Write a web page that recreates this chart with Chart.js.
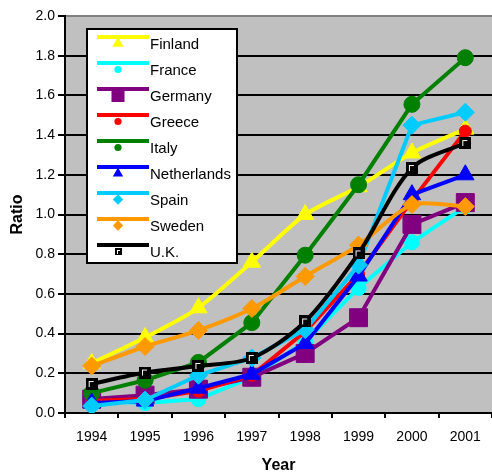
<!DOCTYPE html>
<html>
<head>
<meta charset="utf-8">
<script src="https://cdn.jsdelivr.net/npm/chart.js@4/dist/chart.umd.min.js"></script>
<style>
  html, body { margin: 0; padding: 0; background: #ffffff; }
  canvas { display: block; }
</style>
</head>
<body>
<canvas id="chart" width="492" height="474"></canvas>
<script>
// Years on the category axis
const years = ['1994', '1995', '1996', '1997', '1998', '1999', '2000', '2001'];

// Series names, in legend order
const countries = ['Finland', 'France', 'Germany', 'Greece', 'Italy', 'Netherlands', 'Spain', 'Sweden', 'U.K.'];

// Ratio per country and year
const finland     = [0.25, 0.38, 0.53, 0.76, 1.00, 1.14, 1.31, 1.43];
const france      = [0.06, 0.05, 0.07, 0.18, 0.36, 0.63, 0.86, 1.04];
const germany     = [0.07, 0.09, 0.12, 0.18, 0.30, 0.48, 0.95, 1.06];
const greece      = [0.06, 0.07, 0.11, 0.19, 0.41, 0.70, 1.07, 1.42];
const italy       = [0.10, 0.165, 0.255, 0.455, 0.795, 1.15, 1.555, 1.79];
const netherlands = [0.05, 0.06, 0.125, 0.195, 0.35, 0.69, 1.10, 1.20];
const spain       = [0.035, 0.065, 0.19, 0.277, 0.42, 0.745, 1.45, 1.515];
const sweden      = [0.237, 0.335, 0.416, 0.526, 0.688, 0.846, 1.05, 1.04];
const uk          = [0.146, 0.204, 0.237, 0.277, 0.461, 0.804, 1.234, 1.36];

const seriesValues = [finland, france, germany, greece, italy, netherlands, spain, sweden, uk];

// Y axis range and tick step
const yMin = 0, yMax = 2, yStep = 0.2;

const FONT = "'Liberation Sans', Arial, sans-serif";

// Black square marker with a small white corner mark (U.K.)
function squareMark(size, inset, arm) {
  const c = document.createElement('canvas');
  c.width = size; c.height = size;
  const g = c.getContext('2d');
  g.fillStyle = '#000';
  g.fillRect(0, 0, size, size);
  g.fillStyle = '#fff';
  g.fillRect(inset, inset, arm, 1);
  g.fillRect(inset, inset, 1, arm + 1);
  return c;
}
const ukPoint = squareMark(12, 3, 5);
const ukLegendPoint = squareMark(7, 2, 3);

// Line colour, marker shape and sizes for each series
const styles = [
  { color: '#FFFF00', shape: 'triangle', r: 10,   lr: 6.5, tension: 0.25 },
  { color: '#00FFFF', shape: 'circle',   r: 7.5,  lr: 3.6, tension: 0 },
  { color: '#800080', shape: 'rect',     r: 12.7, lr: 9.2, tension: 0 },
  { color: '#FF0000', shape: 'circle',   r: 6,    lr: 3.6, tension: 0 },
  { color: '#008000', shape: 'circle',   r: 8,    lr: 3.6, tension: 0 },
  { color: '#0000FF', shape: 'triangle', r: 10,   lr: 6.0, tension: 0 },
  { color: '#00CCFF', shape: 'rectRot',  r: 9,    lr: 5.2, tension: 0 },
  { color: '#FF9900', shape: 'rectRot',  r: 9,    lr: 5.2, tension: 0.25 },
  { color: '#000000', shape: ukPoint,    r: 6,    lr: 3.5, tension: 0.3, legendImg: ukLegendPoint }
];

const datasets = countries.map((name, i) => ({
  label: name,
  data: seriesValues[i],
  borderColor: styles[i].color,
  backgroundColor: styles[i].color,
  borderWidth: 4,
  tension: styles[i].tension,
  pointStyle: styles[i].shape,
  pointRadius: styles[i].r,
  pointHoverRadius: styles[i].r,
  pointBackgroundColor: styles[i].color,
  pointBorderColor: styles[i].color,
  pointBorderWidth: 1,
  order: countries.length - i
}));

// Grey plot-area fill
const plotBackground = {
  id: 'plotBackground',
  beforeDraw(chart) {
    const { ctx, chartArea: a } = chart;
    ctx.save();
    ctx.fillStyle = '#C0C0C0';
    ctx.fillRect(a.left, a.top, a.right - a.left, a.bottom - a.top);
    ctx.restore();
  }
};

function drawMarker(ctx, st, x, y) {
  ctx.fillStyle = st.color;
  if (st.legendImg) {
    ctx.drawImage(st.legendImg, Math.round(x - st.legendImg.width / 2), Math.round(y - st.legendImg.height / 2));
    return;
  }
  const r = st.lr;
  ctx.beginPath();
  if (st.shape === 'circle') {
    ctx.arc(x, y, r, 0, Math.PI * 2);
  } else if (st.shape === 'triangle') {
    ctx.moveTo(x, y - r);
    ctx.lineTo(x + r * 0.866, y + r / 2);
    ctx.lineTo(x - r * 0.866, y + r / 2);
    ctx.closePath();
  } else if (st.shape === 'rect') {
    const h = r * Math.SQRT1_2;
    ctx.rect(x - h, y - h, 2 * h, 2 * h);
  } else if (st.shape === 'rectRot') {
    ctx.moveTo(x, y - r);
    ctx.lineTo(x + r, y);
    ctx.lineTo(x, y + r);
    ctx.lineTo(x - r, y);
    ctx.closePath();
  }
  ctx.fill();
}

// Boxed legend inside the plot area
const boxLegend = {
  id: 'boxLegend',
  afterDraw(chart) {
    const ctx = chart.ctx;
    const box = { x: 87, y: 29, w: 150, h: 234 };
    ctx.save();
    ctx.fillStyle = '#ffffff';
    ctx.fillRect(box.x, box.y, box.w, box.h);
    ctx.strokeStyle = '#000000';
    ctx.lineWidth = 2;
    ctx.strokeRect(box.x, box.y, box.w, box.h);
    ctx.font = '15px ' + FONT;
    ctx.textBaseline = 'alphabetic';
    ctx.textAlign = 'left';
    chart.data.datasets.forEach((ds, i) => {
      const st = styles[i];
      const base = 49.3 + 26 * i;
      const lineY = base - 12.3;
      const markY = base - 5.8;
      ctx.strokeStyle = st.color;
      ctx.lineWidth = 4;
      ctx.beginPath();
      ctx.moveTo(97, lineY);
      ctx.lineTo(149, lineY);
      ctx.stroke();
      drawMarker(ctx, st, 118, markY);
      ctx.fillStyle = '#000000';
      ctx.fillText(ds.label, 150, base);
    });
    ctx.restore();
  }
};

new Chart(document.getElementById('chart'), {
  type: 'line',
  data: { labels: years, datasets },
  plugins: [plotBackground, boxLegend],
  options: {
    responsive: false,
    animation: false,
    events: [],
    layout: { autoPadding: false, padding: { top: 16, right: 0, bottom: 0, left: 0 } },
    plugins: {
      legend: { display: false },
      tooltip: { enabled: false },
      title: { display: false }
    },
    scales: {
      x: {
        type: 'category',
        offset: true,
        grid: {
          offset: true,
          drawOnChartArea: false,
          drawTicks: true,
          tickLength: 5,
          color: '#000000',
          lineWidth: 2
        },
        border: { display: true, color: '#000000', width: 2 },
        ticks: {
          color: '#000000',
          font: { family: FONT, size: 14 },
          padding: 11,
          maxRotation: 0,
          autoSkip: false
        },
        title: {
          display: true,
          text: 'Year',
          color: '#000000',
          font: { family: FONT, size: 16, weight: 'bold', lineHeight: 1 },
          padding: { top: 0, bottom: 0 }
        },
        afterFit(scale) {
          scale.height = 61;
          scale.paddingLeft = 0;
          scale.paddingRight = 0;
        }
      },
      y: {
        min: yMin,
        max: yMax,
        grid: {
          color: (c) => (c.tick && Math.abs(c.tick.value - yMax) < 1e-9) ? '#808080' : '#000000',
          tickColor: '#000000',
          lineWidth: 2,
          tickLength: 7,
          drawTicks: true
        },
        border: { display: true, color: '#000000', width: 2 },
        ticks: {
          stepSize: yStep,
          color: '#000000',
          font: { family: FONT, size: 14 },
          padding: 3,
          callback: (v) => Number(v).toFixed(1)
        },
        title: {
          display: true,
          text: 'Ratio',
          color: '#000000',
          font: { family: FONT, size: 16, weight: 'bold', lineHeight: 1 },
          padding: { top: 9.5, bottom: 0 }
        },
        afterFit(scale) {
          scale.width = 65;
          scale.paddingTop = 0;
          scale.paddingBottom = 0;
        }
      }
    }
  }
});
</script>
</body>
</html>
